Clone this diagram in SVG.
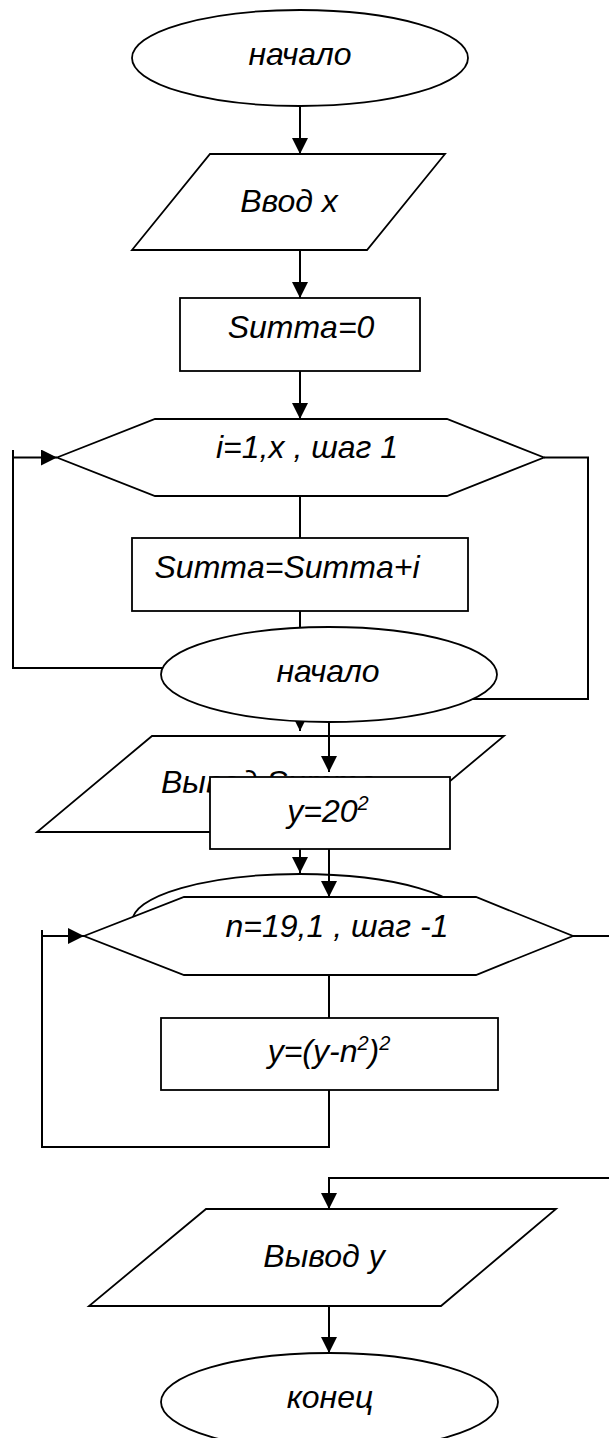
<svg xmlns="http://www.w3.org/2000/svg" width="609" height="1438" viewBox="0 0 609 1438">
  <style>
    .shape { fill: #ffffff; stroke: #000000; stroke-width: 1.8; }
    .wire { fill: none; stroke: #000000; stroke-width: 2; }
    .arrow { marker-end: url(#head); }
    .label { font-family: "Liberation Sans", Arial, sans-serif; font-style: italic; font-size: 32px; fill: #000000; text-anchor: middle; }
    .sup { font-size: 20px; }
  </style>
  <defs>
    <marker id="head" markerUnits="userSpaceOnUse" markerWidth="18" markerHeight="18" refX="16" refY="8" orient="auto">
      <path d="M0,0 L16,8 L0,16 Z" fill="#000000"/>
    </marker>
  </defs>

  <!-- output block of the first algorithm, partly covered by the second one -->
  <g id="out-summa">
    <polygon class="shape" points="152,736 504,736 389,832 37,832"/>
    <text class="label" x="161" y="793" style="text-anchor:start">Вывод Summa</text>
  </g>
  <g id="end-1">
    <ellipse class="shape" cx="300" cy="922" rx="168" ry="48"/>
  </g>

  <g id="connectors">
    <line class="wire arrow" x1="300" y1="106" x2="300" y2="154"/>
    <line class="wire arrow" x1="300" y1="250" x2="300" y2="298"/>
    <line class="wire arrow" x1="300" y1="371" x2="300" y2="419"/>
    <line class="wire" x1="300" y1="496" x2="300" y2="538"/>
    <line class="wire" x1="300" y1="611" x2="300" y2="630"/>
    <!-- loop i: return branch and exit branch -->
    <path class="wire" d="M165,668 H13 V450"/>
    <line class="wire arrow" x1="13" y1="457.5" x2="57" y2="457.5"/>
    <path class="wire" d="M544,457.5 H588 V699 H470"/>
    <line class="wire arrow" x1="300" y1="700" x2="300" y2="731"/>
    <line class="wire arrow" x1="300" y1="820" x2="300" y2="873"/>
    <!-- second algorithm -->
    <line class="wire arrow" x1="329" y1="722" x2="329" y2="772"/>
    <line class="wire arrow" x1="329" y1="849" x2="329" y2="897"/>
    <line class="wire" x1="329" y1="975" x2="329" y2="1018"/>
    <path class="wire" d="M329,1090 V1147 H42 V930"/>
    <line class="wire arrow" x1="42" y1="936" x2="84" y2="936"/>
    <path class="wire arrow" d="M573,936 H625 V1178 H329 V1209"/>
    <line class="wire arrow" x1="329" y1="1306" x2="329" y2="1353"/>
  </g>

  <g id="start-1">
    <ellipse class="shape" cx="300" cy="58" rx="168" ry="48"/>
    <text class="label" x="300" y="65">начало</text>
  </g>
  <g id="input-x">
    <polygon class="shape" points="210,154 445,154 367,250 132,250"/>
    <text class="label" x="289" y="212">Ввод x</text>
  </g>
  <g id="init-summa">
    <rect class="shape" x="180" y="298" width="240" height="73"/>
    <text class="label" x="301" y="338">Summa=0</text>
  </g>
  <g id="loop-i">
    <polygon class="shape" points="57,457.5 155,419 447,419 544,457.5 447,496 155,496"/>
    <text class="label" x="307" y="458">i=1,x , шаг 1</text>
  </g>
  <g id="add-i">
    <rect class="shape" x="132" y="538" width="336" height="73"/>
    <text class="label" x="287" y="578">Summa=Summa+i</text>
  </g>
  <g id="start-2">
    <ellipse class="shape" cx="329" cy="674.5" rx="168" ry="47.5"/>
    <text class="label" x="328" y="682">начало</text>
  </g>
  <g id="init-y">
    <rect class="shape" x="210" y="777" width="240" height="72"/>
    <text class="label" x="328" y="822">y=20<tspan class="sup" dy="-12">2</tspan></text>
  </g>
  <g id="loop-n">
    <polygon class="shape" points="84,936 184,897 476,897 573,936 476,975 184,975"/>
    <text class="label" x="337" y="937">n=19,1 , шаг -1</text>
  </g>
  <g id="step-y">
    <rect class="shape" x="161" y="1018" width="337" height="72"/>
    <text class="label" x="329" y="1062">y=(y-n<tspan class="sup" dy="-12">2</tspan><tspan dy="12">)</tspan><tspan class="sup" dy="-12">2</tspan></text>
  </g>
  <g id="output-y">
    <polygon class="shape" points="206,1209 556,1209 441,1306 89,1306"/>
    <text class="label" x="324" y="1267">Вывод y</text>
  </g>
  <g id="end-2">
    <ellipse class="shape" cx="329.5" cy="1402" rx="168.5" ry="49"/>
    <text class="label" x="330" y="1408">конец</text>
  </g>
</svg>
